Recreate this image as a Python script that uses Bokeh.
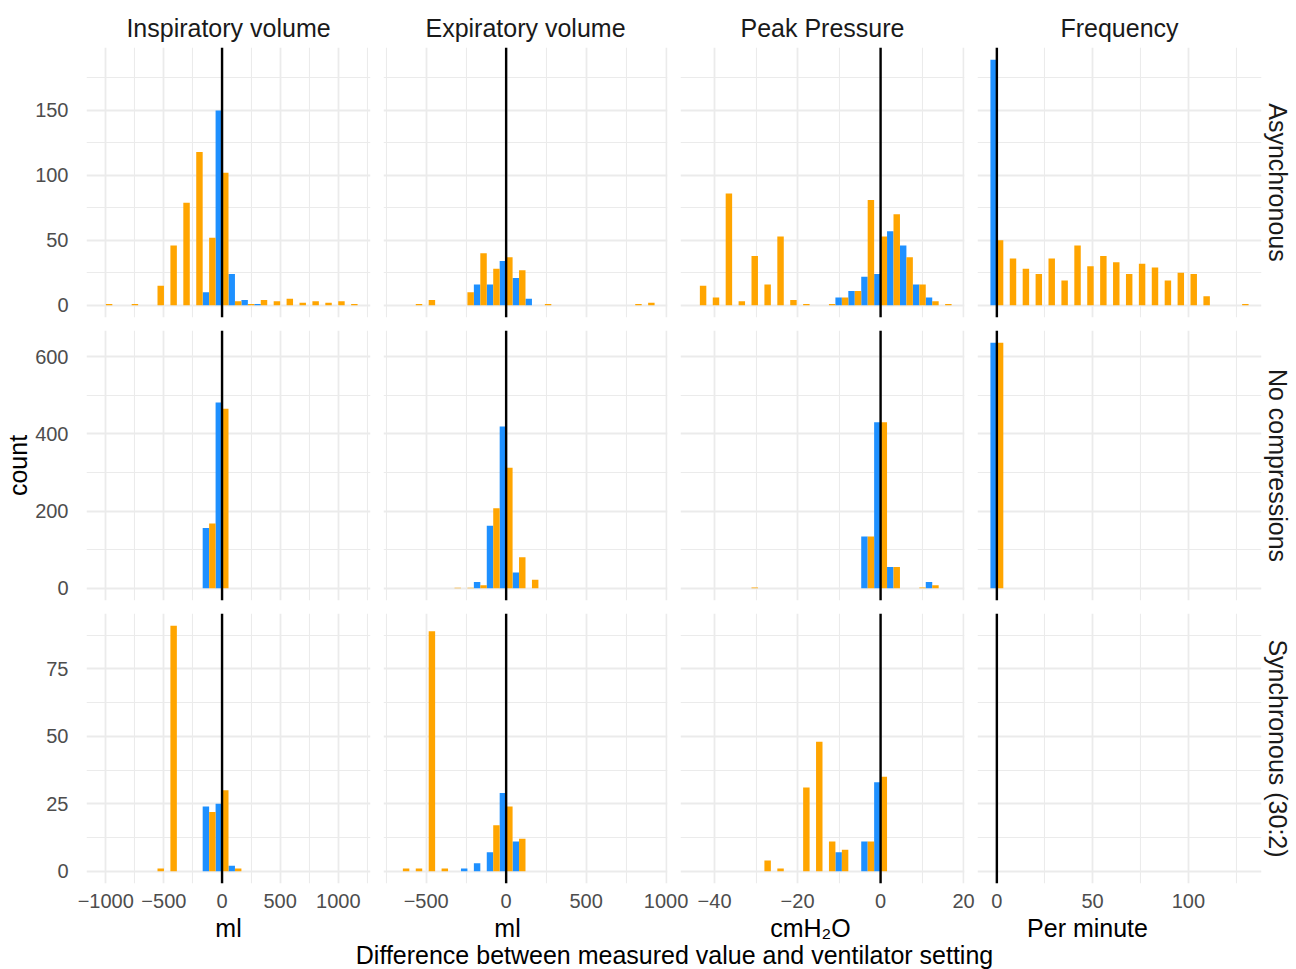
import numpy as np
from bokeh.plotting import figure
from bokeh.models import Range1d, FixedTicker, Span, Title, Label, CustomJSTickFormatter
from bokeh.layouts import column, row
from bokeh.embed import file_html
from bokeh.resources import INLINE

FONT = "Liberation Sans"
BLUE = "#1E90FF"
ORANGE = "#FFA500"
GRID = "#EBEBEB"

ROW_NAMES = ["Asynchronous", "No compressions", "Synchronous (30:2)"]
COL_NAMES = ["Inspiratory volume", "Expiratory volume", "Peak Pressure", "Frequency"]
UNITS = ["ml", "ml", "cmH\u2082O", "Per minute"]
X_TITLE = "Difference between measured value and ventilator setting"
Y_TITLE = "count"

# ---- Inspiratory volume (bin index -9..10, bin width ~111 ml)
INSP_BINWIDTH = 111
INSP_BIN = list(range(-9, 11))
INSP_ASYNC_BLUE    = [0, 0, 0, 0, 0, 0, 0, 0, 10, 150, 24, 4, 1, 0, 0, 0, 0, 0, 0, 0]
INSP_ASYNC_ORANGE  = [1, 0, 1, 0, 15, 46, 79, 118, 52, 102, 3, 1, 4, 3, 5, 2, 3, 2, 3, 1]
INSP_NOCOMP_BLUE   = [0, 0, 0, 0, 0, 0, 0, 0, 156, 481, 0, 0, 0, 0, 0, 0, 0, 0, 0, 0]
INSP_NOCOMP_ORANGE = [0, 0, 0, 0, 0, 0, 0, 0, 168, 465, 0, 0, 0, 0, 0, 0, 0, 0, 0, 0]
INSP_SYNC_BLUE     = [0, 0, 0, 0, 0, 0, 0, 0, 24, 25, 2, 0, 0, 0, 0, 0, 0, 0, 0, 0]
INSP_SYNC_ORANGE   = [0, 0, 0, 0, 1, 91, 0, 0, 22, 30, 1, 0, 0, 0, 0, 0, 0, 0, 0, 0]

# ---- Expiratory volume (bin index -8..11, bin width ~80.7 ml)
EXP_BINWIDTH = 80.7
EXP_BIN = list(range(-8, 12))
EXP_ASYNC_BLUE    = [0, 0, 0, 0, 0, 0, 16, 16, 34, 21, 5, 0, 0, 0, 0, 0, 0, 0, 0, 0]
EXP_ASYNC_ORANGE  = [0, 1, 4, 0, 0, 10, 40, 28, 37, 27, 0, 1, 0, 0, 0, 0, 0, 0, 1, 2]
EXP_NOCOMP_BLUE   = [0, 0, 0, 0, 0, 0, 16, 162, 419, 41, 0, 0, 0, 0, 0, 0, 0, 0, 0, 0]
EXP_NOCOMP_ORANGE = [0, 0, 0, 0, 1, 1, 8, 207, 312, 80, 22, 0, 0, 0, 0, 0, 0, 0, 0, 0]
EXP_SYNC_BLUE     = [0, 0, 0, 0, 0, 1, 3, 7, 29, 11, 0, 0, 0, 0, 0, 0, 0, 0, 0, 0]
EXP_SYNC_ORANGE   = [1, 1, 89, 1, 0, 0, 0, 17, 24, 12, 0, 0, 0, 0, 0, 0, 0, 0, 0, 0]

# ---- Peak pressure (bin index -14..5, bin width ~3.11 cmH2O)
PEAK_BINWIDTH = 3.11
PEAK_BIN = list(range(-14, 6))
PEAK_ASYNC_BLUE    = [0, 0, 0, 0, 0, 0, 0, 0, 0, 0, 0, 6, 11, 22, 24, 57, 46, 16, 6, 0]
PEAK_ASYNC_ORANGE  = [15, 6, 86, 3, 38, 16, 53, 4, 1, 0, 1, 6, 11, 81, 53, 70, 37, 16, 3, 1]
PEAK_NOCOMP_BLUE   = [0, 0, 0, 0, 0, 0, 0, 0, 0, 0, 0, 0, 0, 134, 430, 55, 0, 0, 16, 0]
PEAK_NOCOMP_ORANGE = [0, 0, 0, 0, 2, 0, 0, 0, 0, 0, 0, 0, 0, 134, 430, 55, 0, 2, 8, 0]
PEAK_SYNC_BLUE     = [0, 0, 0, 0, 0, 0, 0, 0, 0, 0, 0, 7, 0, 11, 33, 0, 0, 0, 0, 0]
PEAK_SYNC_ORANGE   = [0, 0, 0, 0, 0, 4, 1, 0, 31, 48, 11, 8, 0, 11, 35, 0, 0, 0, 0, 0]

# ---- Frequency (bin index 0..19, bin width ~6.74 per minute)
FREQ_BINWIDTH = 6.74
FREQ_BIN = list(range(0, 20))
FREQ_ASYNC_BLUE    = [189, 0, 0, 0, 0, 0, 0, 0, 0, 0, 0, 0, 0, 0, 0, 0, 0, 0, 0, 0]
FREQ_ASYNC_ORANGE  = [50, 36, 28, 24, 36, 19, 46, 30, 38, 33, 24, 32, 29, 19, 25, 24, 7, 0, 0, 1]
FREQ_NOCOMP_BLUE   = [636, 0, 0, 0, 0, 0, 0, 0, 0, 0, 0, 0, 0, 0, 0, 0, 0, 0, 0, 0]
FREQ_NOCOMP_ORANGE = [636, 0, 0, 0, 0, 0, 0, 0, 0, 0, 0, 0, 0, 0, 0, 0, 0, 0, 0, 0]
FREQ_SYNC_BLUE     = [0] * 20
FREQ_SYNC_ORANGE   = [0] * 20

# tick positions
X_MAJOR = [[-1000, -500, 0, 500, 1000], [-500, 0, 500, 1000], [-40, -20, 0, 20], [0, 50, 100]]
X_MINOR = [[-1250, -750, -250, 250, 750, 1250], [-750, -250, 250, 750], [-50, -30, -10, 10], [-25, 25, 75, 125]]
Y_MAJOR = [[0, 50, 100, 150], [0, 200, 400, 600], [0, 25, 50, 75]]
Y_MINOR = [[25, 75, 125, 175], [100, 300, 500], [12.5, 37.5, 62.5, 87.5]]

COLS = [
    (INSP_BIN, INSP_BINWIDTH, [(INSP_ASYNC_BLUE, INSP_ASYNC_ORANGE), (INSP_NOCOMP_BLUE, INSP_NOCOMP_ORANGE), (INSP_SYNC_BLUE, INSP_SYNC_ORANGE)]),
    (EXP_BIN, EXP_BINWIDTH, [(EXP_ASYNC_BLUE, EXP_ASYNC_ORANGE), (EXP_NOCOMP_BLUE, EXP_NOCOMP_ORANGE), (EXP_SYNC_BLUE, EXP_SYNC_ORANGE)]),
    (PEAK_BIN, PEAK_BINWIDTH, [(PEAK_ASYNC_BLUE, PEAK_ASYNC_ORANGE), (PEAK_NOCOMP_BLUE, PEAK_NOCOMP_ORANGE), (PEAK_SYNC_BLUE, PEAK_SYNC_ORANGE)]),
    (FREQ_BIN, FREQ_BINWIDTH, [(FREQ_ASYNC_BLUE, FREQ_ASYNC_ORANGE), (FREQ_NOCOMP_BLUE, FREQ_NOCOMP_ORANGE), (FREQ_SYNC_BLUE, FREQ_SYNC_ORANGE)]),
]

# x ranges per column (ggplot-like: bin extent + 5 %)
x_ranges = []
for bins, w, _ in COLS:
    lo = min(bins) * w - w / 2
    hi = max(bins) * w + w / 2
    pad = 0.05 * (hi - lo)
    x_ranges.append((lo - pad, hi + pad))

# y ranges per row
y_ranges = []
for r in range(3):
    m = max(max(max(COLS[c][2][r][0]), max(COLS[c][2][r][1])) for c in range(4))
    y_ranges.append((-0.05 * m, 1.05 * m))

minus_fmt = "return (tick < 0 ? '\u2212' : '') + Math.abs(tick);"

FRAME_W, FRAME_H = 284, 270
rows = []
for r in range(3):
    figs = []
    for c in range(4):
        bins, w, series = COLS[c]
        blue, orange = series[r]
        right_border = 35 if c == 3 else 13
        if r == 2 and c == 1:
            right_border += 22
        p = figure(
            frame_width=FRAME_W, frame_height=FRAME_H,
            x_range=Range1d(*x_ranges[c]), y_range=Range1d(*y_ranges[r]),
            x_axis_location="below" if r == 2 else None,
            y_axis_location="left" if c == 0 else None,
            output_backend="svg", toolbar_location=None,
            min_border_left=86 if c == 0 else 0,
            min_border_right=right_border,
            min_border_top=47 if r == 0 else 0,
            min_border_bottom=32 if r == 2 else 13,
        )
        if r == 2 and c == 2:
            p.margin = (0, 0, 0, -22)
        p.outline_line_color = None
        p.background_fill_color = "white"
        p.border_fill_alpha = 0
        tx = FixedTicker(ticks=X_MAJOR[c], minor_ticks=X_MINOR[c])
        ty = FixedTicker(ticks=Y_MAJOR[r], minor_ticks=Y_MINOR[r])
        for g in p.xgrid:
            g.ticker = tx
        for g in p.ygrid:
            g.ticker = ty
        for g in list(p.xgrid) + list(p.ygrid):
            g.grid_line_color = GRID
            g.grid_line_width = 1.8
            g.minor_grid_line_color = GRID
            g.minor_grid_line_width = 1.1
        for ax in p.axis:
            ax.axis_line_color = None
            ax.major_tick_line_color = None
            ax.minor_tick_line_color = None
            ax.major_label_text_font = FONT
            ax.major_label_text_font_size = "20px"
            ax.major_label_text_color = "#4D4D4D"
        if r == 2:
            p.xaxis.ticker = tx
            p.xaxis.formatter = CustomJSTickFormatter(code=minus_fmt)
            p.xaxis.major_label_standoff = 4
        if c == 0:
            p.yaxis.ticker = ty
            p.yaxis.major_label_standoff = 12
            if r == 1:
                p.yaxis.axis_label = Y_TITLE
                p.yaxis.axis_label_text_font = FONT
                p.yaxis.axis_label_text_font_size = "25px"
                p.yaxis.axis_label_text_font_style = "normal"
                p.yaxis.axis_label_text_color = "black"
                p.yaxis.axis_label_standoff = 0

        centers = np.array(bins, dtype=float) * w
        b = np.array(blue, dtype=float)
        o = np.array(orange, dtype=float)
        mb = b > 0
        mo = o > 0
        if mb.any():
            p.quad(left=centers[mb] - w / 2, right=centers[mb], bottom=0, top=b[mb],
                   fill_color=BLUE, line_color=None)
        if mo.any():
            p.quad(left=centers[mo], right=centers[mo] + w / 2, bottom=0, top=o[mo],
                   fill_color=ORANGE, line_color=None)
        p.add_layout(Span(location=0, dimension="height", line_color="black", line_width=2.4))

        if r == 0:
            p.title.text = COL_NAMES[c]
            p.title.align = "center"
            p.title.text_font = FONT
            p.title.text_font_size = "25px"
            p.title.text_font_style = "normal"
            p.title.text_color = "#1A1A1A"
            p.title.standoff = 11
        if c == 3:
            t = Title(text=ROW_NAMES[r], align="center", text_font=FONT, text_font_size="25px",
                      text_font_style="normal", text_color="#1A1A1A", standoff=5)
            p.add_layout(t, "right")
        figs.append(p)
    rows.append(row(*figs))

# bottom strip with unit labels and common x title (coordinates = page pixels)
bottom = figure(frame_width=1296, frame_height=54, x_range=Range1d(0, 1296), y_range=Range1d(969, 915),
                x_axis_location=None, y_axis_location=None, output_backend="svg",
                toolbar_location=None, min_border=0)
bottom.outline_line_color = None
bottom.xgrid.visible = False
bottom.ygrid.visible = False
for ux, u in zip([228, 507, 810, 1087], UNITS):
    bottom.add_layout(Label(x=ux, y=927, text=u, text_align="center", text_baseline="middle",
                            text_font=FONT, text_font_size="25px", text_color="black"))
bottom.add_layout(Label(x=674, y=954, text=X_TITLE, text_align="center", text_baseline="middle",
                        text_font=FONT, text_font_size="25px", text_color="black"))

layout = column(*rows, bottom)
open("out.html", "w").write(file_html(layout, INLINE))
